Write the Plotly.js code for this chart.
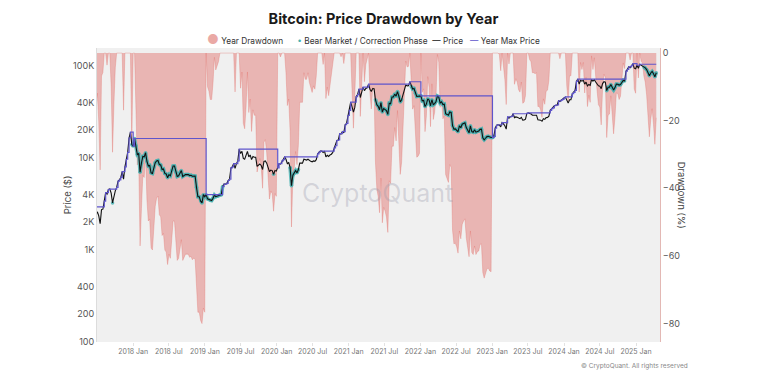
<!DOCTYPE html>
<html>
<head>
<meta charset="utf-8">
<script src="https://cdn.plot.ly/plotly-3.0.1.min.js"></script>
<style>
html,body{margin:0;padding:0;background:#fff;}
#chart{width:767px;height:373px;}
</style>
</head>
<body>
<div id="chart"></div>
<script>
// Weekly BTC closes (USD); each array starts at its start date, one value per week
const startDates = ['2017-06-05','2018-01-01','2019-01-07','2020-01-06','2021-01-04','2022-01-03','2023-01-02','2024-01-01','2025-01-06'];
const price2017 = [2690,2950,2600,2450, 2600,2350,1930,2750,2780, 3400,4200,4050,4550, 4600,4150,3250,3900, 4400,4800,5600,5800,6150, 7100,5900,8000,9700, 11500,16500,19100,14000];
const price2018 = [13500,16300,13600,10900,11200, 7000,8800,10400,10300, 11400,9200,8200,8300, 6900,6800,8000,8900,9300, 9400,8500,8400,7500, 7600,6800,6700,6100, 6600,6400,7300,8200,8200, 7000,6300,6400,7000, 7300,6300,6500,6600, 6600,6600,6450,6500,6330, 6400,6350,4800,3800, 3800,3400,3250,4000,3800];
const price2019 = [4000,3600,3550,3450, 3450,3650,3950,3800, 3850,3900,4000,4000, 4900,5200,5200,5300,5700, 5900,7800,8000,8700, 7700,8700,9300,12500, 11200,11800,9900,9700,10500, 11800,10300,10800,9600, 10400,10200,10200,8100,8300, 8600,8300,7500,9200, 9300,8800,8100,7100, 7400,7300,6650,7300,7200];
const price2020 = [7800,8700,8600,9300, 9600,10300,9700,8700, 8900,7900,5000,6500,6800, 7300,6900,7500,8800, 8800,8800,9700,9500, 9500,9700,9400,9200,9100, 9300,9200,9600,11100, 11600,11900,11900,11500,11900, 10300,10700,10400,10800, 11000,11500,12900,13600, 15500,15700,18400,18200,19400, 18800,23000,23800,29000];
const price2021 = [33000,40500,36000,31500, 35500,46500,49000,56000, 45500,52000,59000,54000,57000, 58000,63500,56000,53000, 57000,56700,43000,38000,36500, 33500,40000,31600,34500, 33800,32700,29800,39500, 39000,46000,46000,49500,47000, 52700,47000,40700,43000, 49200,57500,62000,60900, 61000,67500,60000,56300,57000, 50500,46700,46900,47500];
const price2022 = [47300,41800,42300,36300,38500, 44000,42500,37000,43000, 38000,39000,41200,47100, 46000,39700,40800,38100, 38500,30300,29800,29200,31700, 31300,22500,20600,20700, 20200,19300,22400,21300, 23300,23800,24100,21400,19800, 18800,22400,19400,19100, 20300,19100,19500,19600,20500, 20600,16600,15800,16400, 17100,17200,16800,16700];
const price2023 = [16700,17200,21100,22700,23000, 22900,21800,24300,23500, 22400,20600,28000,27100, 28100,28300,30300,27500, 28000,27700,27000,26800,27700, 25800,25900,26500,30500, 31000,30400,30200,29200,29200, 29100,29200,26100,26100, 25800,25100,26800,26300, 27500,27600,28500,33000,34500, 35000,37000,37500,37700, 41900,41200,42600,43400];
const price2024 = [45000,46100,41600,39500,43000, 43000,50000,51700,54500, 68000,72000,63700,70000, 68500,70000,63500,66800,60600, 63000,61500,71400,68500, 71000,67000,64300,61000, 60500,56700,64500,67500,66800, 54000,58800,59000,62900, 57500,54800,58300,63500,63400, 62100,62800,67400,69900, 68700,88000,92000,98000, 96000,101000,106000,94700,93400];
const price2025 = [102000,94500,104500,102000, 101400,97400,95500,91500, 86200,78600,84000,87300,82400, 76300,84500];

// Bear market / correction phases read from the teal highlights
const bearStart = ['2017-09-12','2017-12-22','2019-12-12','2020-03-05','2021-05-12','2021-11-12','2024-08-01','2025-02-05'];
const bearEnd   = ['2017-09-22','2019-04-05','2019-12-20','2020-04-20','2021-10-02','2023-01-12','2024-11-05','2025-04-30'];

// Tick labels
const xTickVals = ['2018-01-01','2018-07-01','2019-01-01','2019-07-01','2020-01-01','2020-07-01','2021-01-01','2021-07-01','2022-01-01','2022-07-01','2023-01-01','2023-07-01','2024-01-01','2024-07-01','2025-01-01'];
const xTickText = ['2018 Jan','2018 Jul','2019 Jan','2019 Jul','2020 Jan','2020 Jul','2021 Jan','2021 Jul','2022 Jan','2022 Jul','2023 Jan','2023 Jul','2024 Jan','2024 Jul','2025 Jan'];
const yTickVals = [100,200,400,1000,2000,4000,10000,20000,40000,100000];
const yTickText = ['100','200','400','1K','2K','4K','10K','20K','40K','100K'];
const ddTickVals = [0,-20,-40,-60,-80];

// ---- build series ----
const priceByYear = [price2017,price2018,price2019,price2020,price2021,price2022,price2023,price2024,price2025];
const dates = [], price = [];
priceByYear.forEach((arr, k) => {
  const t0 = Date.parse(startDates[k] + 'T00:00:00Z');
  arr.forEach((v, i) => {
    dates.push(new Date(t0 + i * 7 * 86400000).toISOString().slice(0, 10));
    price.push(v);
  });
});
// running max within each calendar year, and drawdown from it
const yearMax = [], drawdown = [];
let curYear = null, curMax = 0;
for (let i = 0; i < price.length; i++) {
  const y = dates[i].slice(0, 4);
  if (y !== curYear) { curYear = y; curMax = 0; }
  curMax = Math.max(curMax, price[i]);
  yearMax.push(curMax);
  drawdown.push((price[i] / curMax - 1) * 100);
}
const inBear = d => bearStart.some((s, j) => d >= s && d <= bearEnd[j]);
const bearX = [], bearY = [], glowY = [];
dates.forEach((d, i) => {
  const b = inBear(d);
  if (b) { bearX.push(d); bearY.push(price[i]); }
  glowY.push(b ? price[i] : null);
});

const FONT = 'Inter, Roboto, "DejaVu Sans", sans-serif';

const traces = [
  { x: dates, y: drawdown, type: 'scatter', mode: 'lines', fill: 'tozeroy', name: 'Year Drawdown',
    fillcolor: 'rgba(225,100,95,0.42)', line: { color: 'rgba(225,100,95,0.5)', width: 0.6 },
    yaxis: 'y', hoverinfo: 'skip' },
  { x: dates, y: glowY, type: 'scatter', mode: 'lines', name: 'Bear Market / Correction Phase',
    line: { color: 'rgba(70,178,178,0.8)', width: 3.6 }, connectgaps: false, yaxis: 'y2', showlegend: false },
  { x: bearX, y: bearY, type: 'scatter', mode: 'markers', name: 'Bear Market / Correction Phase',
    marker: { color: 'rgba(70,178,178,0.85)', size: 3.5 }, yaxis: 'y2' },
  { x: dates, y: price, type: 'scatter', mode: 'lines', name: 'Price',
    line: { color: '#111', width: 1.1 }, yaxis: 'y2' },
  { x: dates, y: yearMax, type: 'scatter', mode: 'lines', name: 'Year Max Price',
    line: { color: '#5f55cc', width: 1.2, shape: 'hv' }, yaxis: 'y2' }
];

const legendText =
  '<span style="color:#eaa9a5;font-size:13px">●</span>&nbsp;Year Drawdown&nbsp;&nbsp;&nbsp;&nbsp;&nbsp;&nbsp;' +
  '<span style="color:#46b2b2">•</span>&nbsp;Bear Market / Correction Phase&nbsp;&nbsp;' +
  '<span style="color:#111">—</span>&nbsp;Price&nbsp;&nbsp;&nbsp;' +
  '<span style="color:#5f55cc">—</span>&nbsp;Year Max Price';

const layout = {
  width: 767, height: 373,
  margin: { l: 97, r: 107, t: 48, b: 31 },
  paper_bgcolor: '#ffffff', plot_bgcolor: '#f0f0f0',
  font: { family: FONT, size: 9, color: '#555' },
  title: { text: '<b>Bitcoin: Price Drawdown by Year</b>', x: 0.5, xanchor: 'center',
           y: 0.949, yanchor: 'middle', yref: 'container',
           font: { family: FONT, size: 14.5, color: '#1a1a1a' } },
  showlegend: false,
  xaxis: { type: 'date', range: ['2017-07-01', '2025-05-03'], tickmode: 'array',
           tickvals: xTickVals, ticktext: xTickText, tickangle: 0,
           showgrid: false, zeroline: false, showline: false,
           ticks: 'outside', ticklen: 3, tickcolor: '#e2e2e2',
           tickfont: { family: FONT, size: 7, color: '#777' } },
  yaxis: { side: 'right', range: [-85.5, 1.5], tickvals: ddTickVals, showgrid: false,
           zeroline: false, showline: true, linecolor: '#e3b8b4', linewidth: 1,
           ticks: '', tickfont: { family: FONT, size: 9, color: '#555' } },
  yaxis2: { overlaying: 'y', side: 'left', type: 'log', range: [2, 5.196],
            tickvals: yTickVals, ticktext: yTickText, showgrid: false, zeroline: false,
            showline: true, linecolor: '#dcdcdc', linewidth: 1, ticks: '',
            tickfont: { family: FONT, size: 9, color: '#555' } },
  annotations: [
    { text: legendText, xref: 'paper', yref: 'paper', x: 0.492, y: 1.031, xanchor: 'center', yanchor: 'middle',
      showarrow: false, font: { family: FONT, size: 8.3, color: '#333' } },
    { text: 'Price ($)', xref: 'paper', yref: 'paper', x: -0.066, y: 0.5, showarrow: false,
      textangle: -90, font: { family: FONT, size: 9.5, color: '#444' } },
    { text: 'Drawdown (%)', xref: 'paper', yref: 'paper', x: 1.053, y: 0.5, showarrow: false,
      textangle: 90, font: { family: FONT, size: 9.5, color: '#444' } },
    { text: 'CryptoQuant', xref: 'paper', yref: 'paper', x: 0.499, y: 0.507, showarrow: false,
      font: { family: FONT, size: 25, color: 'rgba(150,150,168,0.33)' } },
    { text: '© CryptoQuant. All rights reserved', xref: 'paper', yref: 'paper', x: 1.054, y: -0.082,
      xanchor: 'right', yanchor: 'middle', showarrow: false,
      font: { family: FONT, size: 6.5, color: '#888' } }
  ]
};

Plotly.newPlot('chart', traces, layout, { displayModeBar: false, staticPlot: true });
</script>
</body>
</html>
